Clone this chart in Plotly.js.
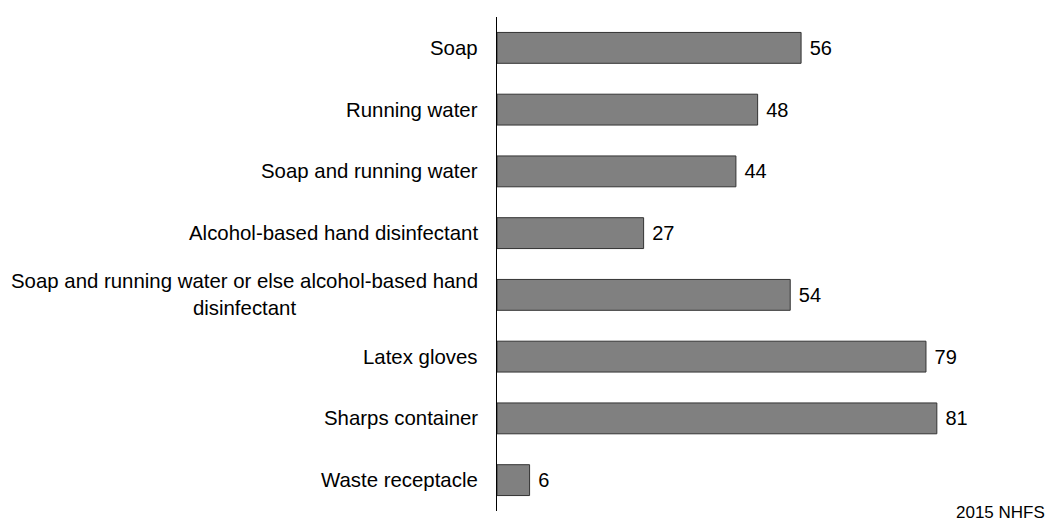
<!DOCTYPE html>
<html>
<head>
<meta charset="utf-8">
<script src="https://cdn.plot.ly/plotly-3.0.1.min.js"></script>
<style>html,body{margin:0;padding:0;background:#fff;}#chart{width:1046px;height:522px;}</style>
</head>
<body>
<div id="chart"></div>
<script>
const categories = [
  "Soap",
  "Running water",
  "Soap and running water",
  "Alcohol-based hand disinfectant",
  "Soap and running water or else alcohol-based hand<br>disinfectant",
  "Latex gloves",
  "Sharps container",
  "Waste receptacle"
];
const values = [56, 48, 44, 27, 54, 79, 81, 6];
const valueLabels = values.map(v => " " + String(v));
const sourceNote = "2015 NHFS";

const FONT = "Liberation Sans, Arial, sans-serif";

const trace = {
  type: "bar",
  orientation: "h",
  y: categories,
  x: values,
  text: valueLabels,
  textposition: "outside",
  cliponaxis: false,
  textfont: {family: FONT, size: 20, color: "#000"},
  marker: {color: "#808080", line: {color: "#333333", width: 1}},
  hoverinfo: "skip"
};

const categoryLabels = categories.map(c => ({
  text: c,
  xref: "paper", yref: "y",
  x: 0, y: c,
  xanchor: "right", yanchor: "middle",
  align: "center",
  xshift: -17,
  showarrow: false,
  font: {family: FONT, size: 20.4, color: "#000"}
}));

const layout = {
  width: 1046,
  height: 522,
  margin: {l: 497, r: 6, t: 17, b: 11},
  paper_bgcolor: "#fff",
  plot_bgcolor: "#fff",
  bargap: 0.5,
  showlegend: false,
  font: {family: FONT, size: 20, color: "#000"},
  xaxis: {
    range: [0, 100],
    showgrid: false,
    zeroline: false,
    showline: false,
    showticklabels: false,
    ticks: ""
  },
  yaxis: {
    type: "category",
    autorange: "reversed",
    showgrid: false,
    zeroline: false,
    showline: true,
    linecolor: "#000",
    linewidth: 1,
    ticks: "",
    showticklabels: false
  },
  annotations: categoryLabels.concat([{
    text: sourceNote,
    xref: "paper", yref: "paper",
    x: 1.0, y: -11 / 494,
    xanchor: "right", yanchor: "bottom",
    xshift: 6, yshift: -1,
    borderpad: 0,
    showarrow: false,
    font: {family: FONT, size: 17, color: "#000"}
  }])
};

Plotly.newPlot("chart", [trace], layout, {displayModeBar: false, staticPlot: true});
</script>
</body>
</html>
